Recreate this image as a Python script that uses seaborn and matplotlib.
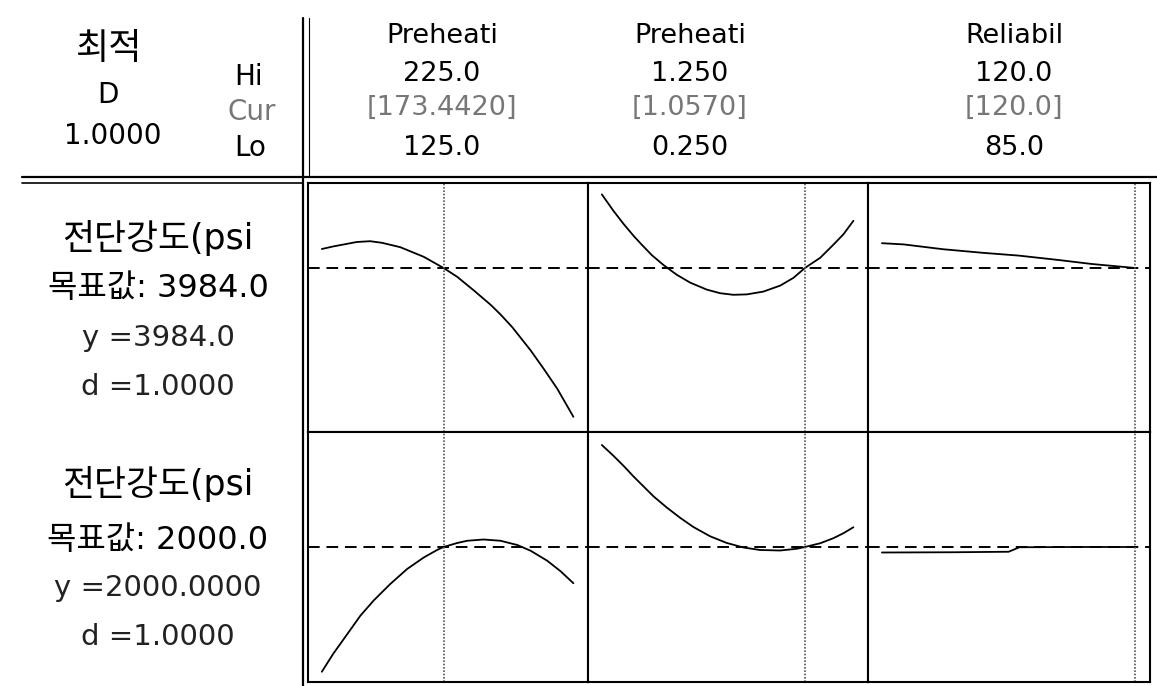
import matplotlib
matplotlib.use("Agg")
import matplotlib.pyplot as plt
import seaborn as sns
import pandas as pd

# 요인 정보 (헤더)
factor_names = ["Preheati", "Preheati", "Reliabil"]
factor_hi = ["225.0", "1.250", "120.0"]
factor_cur = ["[173.4420]", "[1.0570]", "[120.0]"]
factor_lo = ["125.0", "0.250", "85.0"]
lo_vals = [125.0, 0.25, 85.0]
hi_vals = [225.0, 1.25, 120.0]
cur_vals = [173.442, 1.057, 120.0]

# 반응 정보
resp_name = "전단강도(psi"
targets = [3984.0, 2000.0]
target_labels = ["목표값: 3984.0", "목표값: 2000.0"]
y_labels = ["y =3984.0", "y =2000.0000"]
d_labels = ["d =1.0000", "d =1.0000"]
row_ylims = [(3164, 4409), (1460, 2460)]

# 1행: 전단강도 (목표 3984)
temp_x1 = [125.0, 129.6, 138.9, 144.2, 148.9, 156.2, 165.5, 173.4, 178.8, 185.4,
           192.1, 196.0, 200.7, 208.0, 213.3, 218.6, 225.0]
temp_y1 = [4079, 4092, 4114, 4118, 4110, 4088, 4040, 3984, 3940, 3872,
           3800, 3752, 3688, 3572, 3478, 3380, 3240]
time_x1 = [0.250, 0.296, 0.336, 0.376, 0.409, 0.449, 0.495, 0.548, 0.601, 0.667, 0.720,
           0.773, 0.826, 0.892, 0.959, 1.012, 1.057, 1.118, 1.170, 1.210, 1.250]
time_y1 = [4352, 4270, 4205, 4145, 4100, 4048, 3999, 3950, 3911, 3876, 3858,
           3850, 3852, 3866, 3896, 3935, 3984, 4035, 4100, 4152, 4220]
rel_x1 = [85.0, 88.0, 93.4, 98.9, 103.9, 109.4, 114.0, 120.0]
rel_y1 = [4108, 4102, 4078, 4060, 4046, 4024, 4004, 3984]

# 2행: 전단강도 (목표 2000)
temp_x2 = [125.0, 129.6, 135.0, 140.3, 145.6, 152.2, 158.9, 165.5, 170.8, 173.4,
           178.8, 182.8, 189.3, 196.0, 202.7, 208.0, 214.6, 219.9, 225.0]
temp_y2 = [1501, 1574, 1650, 1725, 1786, 1852, 1912, 1958, 1988, 2000,
           2016, 2025, 2030, 2025, 2008, 1985, 1945, 1903, 1855]
time_x2 = [0.250, 0.296, 0.336, 0.376, 0.415, 0.455, 0.508, 0.561, 0.614, 0.680,
           0.747, 0.813, 0.879, 0.959, 1.025, 1.057, 1.118, 1.170, 1.210, 1.250]
time_y2 = [2408, 2365, 2325, 2282, 2243, 2203, 2158, 2117, 2080, 2043,
           2016, 1998, 1988, 1986, 1993, 2000, 2015, 2035, 2055, 2079]
rel_x2 = [85.0, 95.0, 102.5, 104.0, 112.0, 120.0]
rel_y2 = [1978, 1979, 1981, 1999, 2000, 2000]

curves = [[(temp_x1, temp_y1), (time_x1, time_y1), (rel_x1, rel_y1)],
          [(temp_x2, temp_y2), (time_x2, time_y2), (rel_x2, rel_y2)]]

sns.set_style("white")
plt.rcParams["font.family"] = ["DejaVu Sans", "Noto Sans CJK KR"]
plt.rcParams["text.color"] = "black"

W, H = 1157, 686
fig = plt.figure(figsize=(W / 100, H / 100), dpi=100)

# 배경 (헤더 구분선, 텍스트)
bg = fig.add_axes([0, 0, 1, 1])
bg.set_xlim(0, W)
bg.set_ylim(H, 0)
bg.axis("off")
bg.plot([22, W], [177, 177], color="black", lw=1.6)
bg.plot([22, 303], [183, 183], color="black", lw=1.2)
bg.plot([303, 303], [18, H], color="black", lw=1.6)
bg.plot([309, 309], [18, 177], color="black", lw=0.8)

gray = "#777777"
bg.text(108, 49, "최적", fontsize=26, ha="center", va="center")
bg.text(108, 95, "D", fontsize=20, ha="center", va="center")
bg.text(113, 136, "1.0000", fontsize=20, ha="center", va="center")
bg.text(249, 77, "Hi", fontsize=20, ha="center", va="center")
bg.text(252, 112, "Cur", fontsize=20, ha="center", va="center", color=gray)
bg.text(250, 148, "Lo", fontsize=20, ha="center", va="center")

head_x = [442, 690, 1014]
for i in range(3):
    bg.text(head_x[i], 36, factor_names[i], fontsize=19.5, ha="center", va="center")
    bg.text(head_x[i], 74, factor_hi[i], fontsize=19.5, ha="center", va="center")
    bg.text(head_x[i], 108, factor_cur[i], fontsize=19.5, ha="center", va="center", color=gray)
    bg.text(head_x[i], 148, factor_lo[i], fontsize=19.5, ha="center", va="center")

label_y = [[238, 288, 338, 387], [484, 540, 588, 637]]
for r in range(2):
    bg.text(158, label_y[r][0], resp_name, fontsize=25, ha="center", va="center")
    bg.text(158, label_y[r][1], target_labels[r], fontsize=23, ha="center", va="center")
    bg.text(158, label_y[r][2], y_labels[r], fontsize=21, ha="center", va="center", color="#222222")
    bg.text(158, label_y[r][3], d_labels[r], fontsize=21, ha="center", va="center", color="#222222")

# 패널
col_l = [308, 588, 868]
col_r = [588, 868, 1150]
row_t = [183, 432]
row_b = [432, 682]
pad_l, pad_r = 0.055, 0.058

for r in range(2):
    for c in range(3):
        ax = fig.add_axes([col_l[c] / W, 1 - row_b[r] / H,
                           (col_r[c] - col_l[c]) / W, (row_b[r] - row_t[r]) / H])
        xs, ys = curves[r][c]
        df = pd.DataFrame({"x": xs, "y": ys})
        sns.lineplot(data=df, x="x", y="y", ax=ax, color="black", lw=1.3, estimator=None)
        ax.axhline(targets[r], color="black", lw=1.4, ls=(0, (6, 3.5)))
        ax.axvline(cur_vals[c], color="#555555", lw=1.2, ls=(0, (1, 1)))
        span = hi_vals[c] - lo_vals[c]
        ax.set_xlim(lo_vals[c] - pad_l * span, hi_vals[c] + pad_r * span)
        ax.set_ylim(*row_ylims[r])
        ax.set_xticks([])
        ax.set_yticks([])
        ax.set_xlabel("")
        ax.set_ylabel("")
        for s in ax.spines.values():
            s.set_color("black")
            s.set_linewidth(1.5)

fig.savefig("out.png", dpi=100)
